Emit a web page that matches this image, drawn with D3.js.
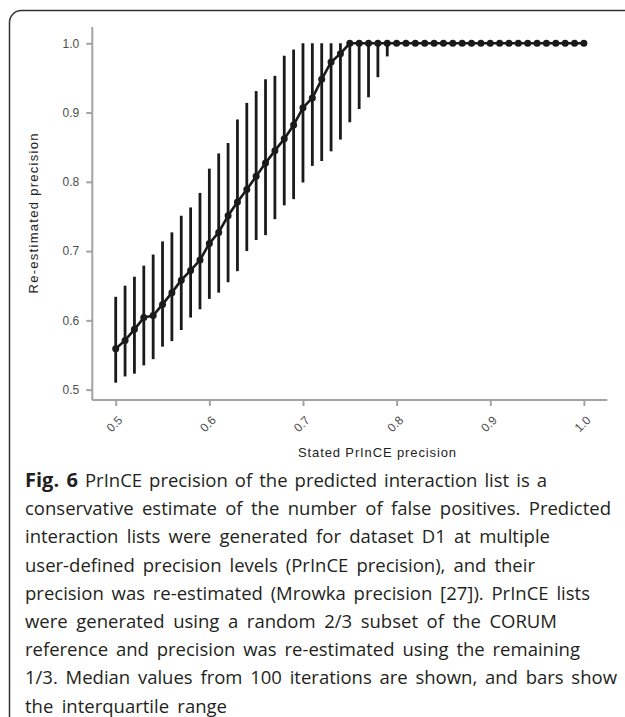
<!DOCTYPE html>
<html>
<head>
<meta charset="utf-8">
<script src="https://cdn.jsdelivr.net/npm/d3@7"></script>
<style>
  body { margin: 0; background: #fff; }
  svg { display: block; }
</style>
</head>
<body>
<div id="chart"></div>
<script>
// stated precision levels (x)
var stated = d3.range(50, 101).map(function(v){ return v / 100; });

// re-estimated precision: medians
var median = [0.559, 0.571, 0.587, 0.604, 0.607, 0.623, 0.640, 0.658, 0.672, 0.687,
              0.711, 0.727, 0.751, 0.771, 0.789, 0.808, 0.827, 0.845, 0.862, 0.882,
              0.907, 0.921, 0.948, 0.973, 0.985, 1, 1, 1, 1, 1,
              1, 1, 1, 1, 1, 1, 1, 1, 1, 1,
              1, 1, 1, 1, 1, 1, 1, 1, 1, 1, 1];

// lower quartile
var q1 = [0.510, 0.519, 0.523, 0.535, 0.544, 0.562, 0.570, 0.586, 0.604, 0.616,
          0.631, 0.640, 0.655, 0.671, 0.700, 0.716, 0.723, 0.746, 0.766, 0.775,
          0.799, 0.823, 0.830, 0.844, 0.861, 0.886, 0.905, 0.922, 0.951, 0.981,
          1, 1, 1, 1, 1, 1, 1, 1, 1, 1,
          1, 1, 1, 1, 1, 1, 1, 1, 1, 1, 1];

// upper quartile
var q3 = [0.634, 0.650, 0.663, 0.679, 0.695, 0.714, 0.727, 0.751, 0.763, 0.784,
          0.819, 0.841, 0.856, 0.890, 0.914, 0.931, 0.948, 0.953, 0.982, 0.991,
          1, 1, 1, 1, 1, 1, 1, 1, 1, 1,
          1, 1, 1, 1, 1, 1, 1, 1, 1, 1,
          1, 1, 1, 1, 1, 1, 1, 1, 1, 1, 1];

var xTicks = [0.5, 0.6, 0.7, 0.8, 0.9, 1.0];
var yTicks = [0.5, 0.6, 0.7, 0.8, 0.9, 1.0];

var caption = [
    ["Fig. 6", " PrInCE precision of the predicted interaction list is a"],
    ["", "conservative estimate of the number of false positives. Predicted"],
    ["", "interaction lists were generated for dataset D1 at multiple"],
    ["", "user-defined precision levels (PrInCE precision), and their"],
    ["", "precision was re-estimated (Mrowka precision [27]). PrInCE lists"],
    ["", "were generated using a random 2/3 subset of the CORUM"],
    ["", "reference and precision was re-estimated using the remaining"],
    ["", "1/3. Median values from 100 iterations are shown, and bars show"],
    ["", "the interquartile range"]
];
var captionEnds = [547, 611, 550, 535, 590, 557, 580, 617, 227];

var width = 625, height = 717;

var data = stated.map(function(s, i){
    return {x: s, m: median[i], lo: q1[i], hi: q3[i]};
});

var svg = d3.select("#chart").append("svg")
    .attr("width", width)
    .attr("height", height);

// figure frame
svg.append("rect")
    .attr("x", 9.5)
    .attr("y", 10.5)
    .attr("width", 700)
    .attr("height", 800)
    .attr("rx", 12)
    .attr("ry", 12)
    .style("fill", "none")
    .style("stroke", "#333")
    .style("stroke-width", 1.5);

var x = d3.scaleLinear().domain([0.475, 1.025]).range([92.3, 607.3]);
var y = d3.scaleLinear().domain([0.485, 1.0235]).range([400, 27]);

var axisColor = "#a3a3a3";
var labelFont = "'Liberation Sans', Arial, sans-serif";

// y axis
var yAxis = svg.append("g")
    .attr("transform", "translate(92.3,0)")
    .call(d3.axisLeft(y).tickValues(yTicks).tickFormat(d3.format(".1f")).tickSize(6).tickPadding(7));
// x axis
var xAxis = svg.append("g")
    .attr("transform", "translate(0,400)")
    .call(d3.axisBottom(x).tickValues(xTicks).tickFormat(d3.format(".1f")).tickSize(6));

[yAxis, xAxis].forEach(function(a){
    a.select(".domain").style("stroke", axisColor).style("stroke-width", 2);
    a.selectAll(".tick line").style("stroke", axisColor).style("stroke-width", 2);
    a.selectAll("text")
        .style("font-family", labelFont)
        .style("font-size", "12px")
        .style("fill", "#4d4d4d");
});
// no end caps on the domain paths
yAxis.select(".domain").attr("d", "M0," + y.range()[1] + "V" + y.range()[0]);
xAxis.select(".domain").attr("d", "M" + x.range()[0] + ",0H" + x.range()[1]);

// 45 degree labels, ending at the tick
xAxis.selectAll(".tick text")
    .attr("x", 0)
    .attr("y", 0)
    .attr("dy", 0)
    .attr("text-anchor", "end")
    .attr("transform", "translate(7,21) rotate(-45)");

// axis titles
svg.append("text")
    .attr("x", 377)
    .attr("y", 457)
    .attr("text-anchor", "middle")
    .attr("textLength", 158)
    .attr("lengthAdjust", "spacing")
    .style("font-family", labelFont)
    .style("font-size", "13px")
    .style("fill", "#222")
    .text("Stated PrInCE precision");

svg.append("text")
    .attr("transform", "translate(38,213.5) rotate(-90)")
    .attr("text-anchor", "middle")
    .attr("textLength", 160)
    .attr("lengthAdjust", "spacing")
    .style("font-family", labelFont)
    .style("font-size", "13px")
    .style("fill", "#222")
    .text("Re-estimated precision");

var ink = "#1a1a1a";

// interquartile bars
svg.selectAll(".bar")
    .data(data)
    .enter().append("line")
    .attr("class", "bar")
    .attr("x1", function(d){ return x(d.x); })
    .attr("x2", function(d){ return x(d.x); })
    .attr("y1", function(d){ return y(d.lo); })
    .attr("y2", function(d){ return y(d.hi); })
    .style("stroke", ink)
    .style("stroke-width", 2.8);

// median line
var line = d3.line()
    .x(function(d){ return x(d.x); })
    .y(function(d){ return y(d.m); });

svg.append("path")
    .datum(data)
    .attr("d", line)
    .style("fill", "none")
    .style("stroke", ink)
    .style("stroke-width", 2.6);

svg.selectAll(".pt")
    .data(data)
    .enter().append("circle")
    .attr("class", "pt")
    .attr("cx", function(d){ return x(d.x); })
    .attr("cy", function(d){ return y(d.m); })
    .attr("r", 3.5)
    .style("fill", ink);

// caption, justified with word spacing
var cap = svg.append("g")
    .style("font-family", "'Open Sans', 'Noto Sans', sans-serif")
    .style("font-size", "18.5px")
    .style("fill", "#231f20");

caption.forEach(function(parts, i){
    var t = cap.append("text")
        .attr("x", 25)
        .attr("y", 487 + i * 28.2);
    if (parts[0]) {
        t.append("tspan").style("font-weight", "bold").style("font-size", "20px").text(parts[0]);
    }
    t.append("tspan").text(parts[1]);
    var natural = t.node().getComputedTextLength();
    var spaces = (parts[0] + parts[1]).split(" ").length - 1;
    var extra = (captionEnds[i] - 25 - natural) / spaces;
    if (extra > 0) t.style("word-spacing", extra + "px");
});
</script>
</body>
</html>
